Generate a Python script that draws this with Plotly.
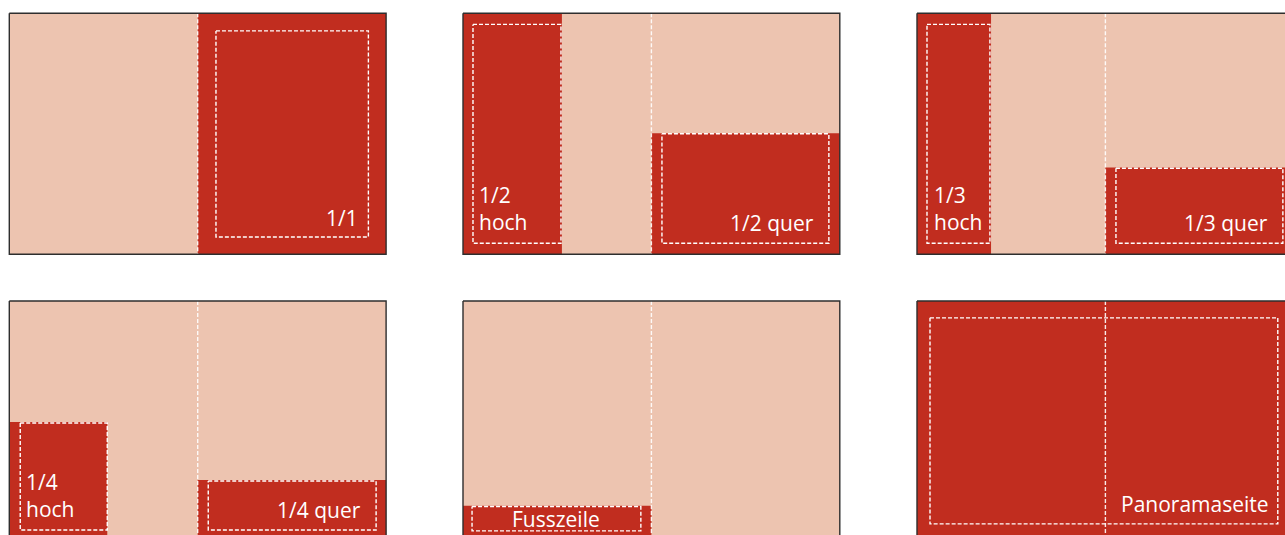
import plotly.graph_objects as go

# ---------------- data: ad formats (page units; spread = 2 pages wide, 1 page high, y downward)
format_names = ["1/1", "1/2 hoch", "1/2 quer", "1/3 hoch", "1/3 quer",
                "1/4 hoch", "1/4 quer", "Fusszeile", "Panoramaseite"]
format_labels = ["1/1", "1/2<br>hoch", "1/2 quer", "1/3<br>hoch", "1/3 quer",
                 "1/4<br>hoch", "1/4 quer", "Fusszeile", "Panoramaseite"]
format_panel = [0, 1, 1, 2, 2, 3, 3, 4, 5]

# bleed (red) area
bleed_x0 = [1.0, 0.0, 1.0, 0.0, 1.0, 0.0, 1.0, 0.0, 0.0]
bleed_x1 = [2.0, 0.525, 2.0, 0.393, 2.0, 0.52, 2.0, 1.0, 2.0]
bleed_y0 = [0.0, 0.0, 0.498, 0.0, 0.64, 0.502, 0.743, 0.85, 0.0]
bleed_y1 = [1.0, 1.0, 1.0, 1.0, 1.0, 1.0, 1.0, 1.0, 1.0]

# type area (dashed)
type_x0 = [1.097, 0.053, 1.056, 0.053, 1.056, 0.058, 1.056, 0.048, 0.069]
type_x1 = [1.906, 0.52, 1.942, 0.387, 1.942, 0.52, 1.947, 0.944, 1.915]
type_y0 = [0.073, 0.046, 0.5, 0.046, 0.643, 0.506, 0.747, 0.853, 0.07]
type_y1 = [0.928, 0.954, 0.954, 0.954, 0.954, 0.95, 0.95, 0.954, 0.925]

# ---------------- label styling
label_align = ["right", "left", "right", "left", "right", "left", "right", "center", "right"]
label_xshift = [-8, 4, -13, 5, -13, 4, -13, 0, -7]
label_yshift = [3, 5, 4, 5, 4, 5, 4, -4, 4]

# ---------------- layout of the spreads
PW, PH = 188.4, 241.0          # page size in px
X0PX, Y0PX = 9.3, 13.3         # top-left of first spread in px
col_x = [0.0, (463 - X0PX) / PW, (917 - X0PX) / PW]
row_y = [0.0, (301 - Y0PX) / PH]
panel_origin = [(col_x[c], row_y[r]) for r in range(2) for c in range(3)]

PEACH = "#EDC4B0"
RED = "#C12D1F"
BORDER = "#2e2e2e"
WHITE = "#FFFFFF"
DASH = "4px,2px"


def rect_xy(x0, x1, y0, y1):
    return [x0, x1, x1, x0, x0], [y0, y0, y1, y1, y0]


fig = go.Figure()

# page backgrounds
for (ox, oy) in panel_origin:
    xs, ys = rect_xy(ox, ox + 2, oy, oy + 1)
    fig.add_trace(go.Scatter(x=xs, y=ys, mode="lines", fill="toself",
                             fillcolor=PEACH, line=dict(width=0),
                             hoverinfo="skip", showlegend=False))

# bleed areas
for i, name in enumerate(format_names):
    ox, oy = panel_origin[format_panel[i]]
    xs, ys = rect_xy(ox + bleed_x0[i], ox + bleed_x1[i], oy + bleed_y0[i], oy + bleed_y1[i])
    fig.add_trace(go.Scatter(x=xs, y=ys, mode="lines", fill="toself",
                             fillcolor=RED, line=dict(width=0), name=name,
                             hoverinfo="name", showlegend=False))

# spine lines
for (ox, oy) in panel_origin:
    fig.add_trace(go.Scatter(x=[ox + 1, ox + 1], y=[oy, oy + 1], mode="lines",
                             line=dict(color=WHITE, width=1.4, dash=DASH),
                             opacity=0.9, hoverinfo="skip", showlegend=False))

# type areas
for i, name in enumerate(format_names):
    ox, oy = panel_origin[format_panel[i]]
    xs, ys = rect_xy(ox + type_x0[i], ox + type_x1[i], oy + type_y0[i], oy + type_y1[i])
    fig.add_trace(go.Scatter(x=xs, y=ys, mode="lines",
                             line=dict(color=WHITE, width=1.4, dash=DASH),
                             hoverinfo="skip", showlegend=False))

# borders
for (ox, oy) in panel_origin:
    xs, ys = rect_xy(ox, ox + 2, oy, oy + 1)
    fig.add_trace(go.Scatter(x=xs, y=ys, mode="lines",
                             line=dict(color=BORDER, width=1.4),
                             hoverinfo="skip", showlegend=False))

# labels
for i, lab in enumerate(format_labels):
    ox, oy = panel_origin[format_panel[i]]
    al = label_align[i]
    if al == "right":
        x = ox + type_x1[i]
    elif al == "left":
        x = ox + type_x0[i]
    else:
        x = ox + (type_x0[i] + type_x1[i]) / 2
    fig.add_annotation(x=x, y=oy + type_y1[i], xref="x", yref="y", text=lab,
                       showarrow=False, xanchor=al, yanchor="bottom", align="left",
                       xshift=label_xshift[i], yshift=label_yshift[i],
                       font=dict(family="Open Sans", size=21, color=WHITE))

fig.update_xaxes(range=[-X0PX / PW, (1285 - X0PX) / PW], visible=False, fixedrange=True)
fig.update_yaxes(range=[(535 - Y0PX) / PH, -Y0PX / PH], visible=False, fixedrange=True)
fig.update_layout(width=1285, height=535, margin=dict(l=0, r=0, t=0, b=0),
                  paper_bgcolor="white", plot_bgcolor="white", hovermode=False)

fig.write_html("out.html",
               config={"displayModeBar": False, "staticPlot": True},
               post_script="document.body.style.margin='0';"
                           "document.body.style.overflow='hidden';")
